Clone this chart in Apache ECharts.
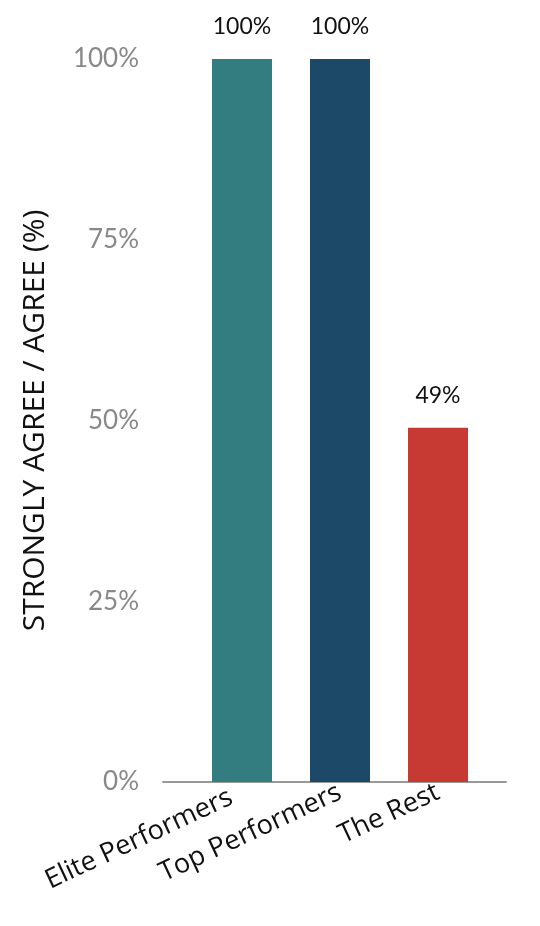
<!DOCTYPE html>
<html>
<head>
<meta charset="utf-8">
<script src="https://cdn.jsdelivr.net/npm/echarts@6/dist/echarts.min.js"></script>
<style>html,body{margin:0;padding:0;background:#fff;}#c{width:540px;height:926px;}</style>
</head>
<body>
<div id="c"></div>
<script>
const categories = ['Elite Performers', 'Top Performers', 'The Rest'];
const values = [100, 100, 49];
const barColors = ['#337d80', '#1c4968', '#c73a33'];
const yTicks = [0, 25, 50, 75, 100];
const yName = 'STRONGLY AGREE / AGREE (%)';
const FONT = 'Lato';
const FONT2 = '"Open Sans", sans-serif';
const labelPads = [[0, 12, 0, 0], [0, 0, 0, 0], [0, 0, 0, 0]];

const chart = echarts.init(document.getElementById('c'));
chart.setOption({
  animation: false,
  textStyle: { fontFamily: FONT },
  grid: [
    { left: 193, width: 294, top: 59, bottom: 144 },
    { left: 163, right: 34, top: 59, bottom: 144 }
  ],
  xAxis: [
    {
      type: 'category', gridIndex: 0,
      data: categories.map((c, i) => ({ value: c, textStyle: { padding: labelPads[i] } })),
      axisLine: { show: false }, axisTick: { show: false },
      axisLabel: { rotate: 25, margin: 9, fontSize: 27, color: '#111', fontFamily: FONT2, interval: 0 }
    },
    {
      type: 'value', gridIndex: 1, min: 0, max: 1,
      axisLine: { show: true, lineStyle: { color: '#999', width: 2 } },
      axisTick: { show: false }, axisLabel: { show: false }, splitLine: { show: false }
    }
  ],
  yAxis: [
    { type: 'value', gridIndex: 0, min: 0, max: 100, interval: 25, show: false },
    {
      type: 'value', gridIndex: 1, min: 0, max: 100, interval: 25,
      axisLine: { show: false }, axisTick: { show: false }, splitLine: { show: false },
      axisLabel: { margin: 24, fontSize: 26, color: '#888', fontFamily: FONT, formatter: v => yTicks.includes(v) ? v + '%' : '' },
      name: yName, nameLocation: 'middle', nameRotate: 90, nameGap: 113,
      nameTextStyle: { fontSize: 30, color: '#111', fontFamily: FONT2 }
    }
  ],
  series: [{
    type: 'bar', xAxisIndex: 0, yAxisIndex: 0, barWidth: 60,
    data: values.map((v, i) => ({ value: v, itemStyle: { color: barColors[i] } })),
    label: { show: true, position: 'top', distance: 21, fontSize: 23, color: '#111', fontFamily: FONT, formatter: p => p.value + '%' }
  }]
});
</script>
</body>
</html>
